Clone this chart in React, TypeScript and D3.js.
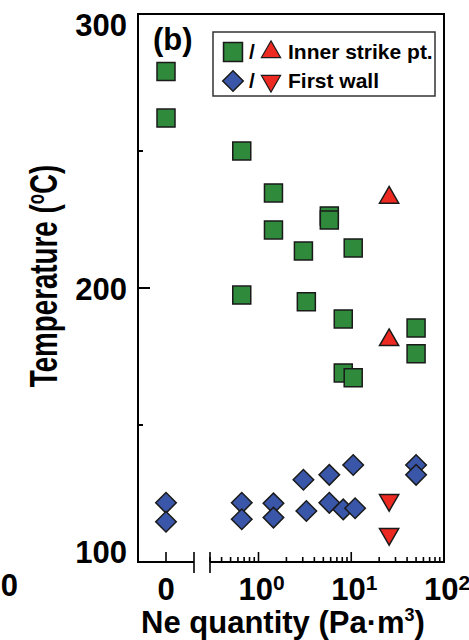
import React, { useEffect, useRef } from 'react';
import * as d3 from 'd3';

const W = 469;
const H = 640;

// Inner strike pt. (green squares)
const squareNe = [0, 0, 0.66, 1.45, 1.45, 3.05, 5.8, 5.8, 10.5, 0.66, 3.28, 8.2, 50, 50, 8.2, 10.5];
const squareT = [279, 262, 250, 234.7, 221.2, 213.5, 226.3, 224.8, 214.6, 197.4, 195, 188.7, 185.4, 176, 169, 167.2];
// Inner strike pt. (red up-triangles)
const triUpNe = [25.6, 25.6];
const triUpT = [233, 181];
// First wall (blue diamonds)
const diamondNe = [0, 0, 0.66, 0.66, 1.45, 1.45, 3.05, 3.28, 5.8, 5.8, 8.2, 10.5, 11, 50, 50];
const diamondT = [121.6, 114.7, 121.6, 115.6, 121.4, 116.2, 130, 118.6, 131.8, 121.6, 119.2, 135.4, 119.6, 135.4, 131.8];
// First wall (red down-triangles)
const triDownNe = [25.6, 25.6];
const triDownT = [122.6, 110.2];

const yTicks = [100, 200, 300];
const yMinorTicks = [150, 250];
const xDecades = [0, 1, 2];
const legendLabels = ['Inner strike pt.', 'First wall'];

const FONT = '"Liberation Sans", Arial, sans-serif';
const GREEN = '#2f8a3c';
const BLUE = '#3a56a8';
const RED = '#ec2a22';
const EDGE = '#1a1a1a';

const App = () => {
  const svgRef = useRef<SVGSVGElement>(null);

  useEffect(() => {
    const svg = d3.select(svgRef.current);
    svg.selectAll('*').remove();

    const left = 138, right = 444, top = 14, bottom = 562;

    // Scales: y linear, x split into a "0" slot and a log part
    const y = d3.scaleLinear().domain([100, 300]).range([bottom, top]);
    const xZero = d3.scalePoint<string>().domain(['0']).range([left, 194]);
    const xLog = d3.scaleLog().domain([0.3, 100]).range([210, right]);
    const xPos = (v: number) => (v === 0 ? (xZero('0') as number) : xLog(v));

    const g = svg.append('g');

    // Frame with broken bottom axis
    g.append('path')
      .attr('d', `M${xZero.range()[1]},${bottom}H${left}V${top}H${right}V${bottom}H${xLog.range()[0]}`)
      .attr('fill', 'none')
      .attr('stroke', '#000')
      .attr('stroke-width', 2);

    // Break marks
    [xZero.range()[1], xLog.range()[0]].forEach(bx => {
      g.append('line')
        .attr('x1', bx).attr('x2', bx)
        .attr('y1', bottom - 10).attr('y2', bottom + 11)
        .attr('stroke', '#000').attr('stroke-width', 1.6);
    });

    // y ticks
    g.selectAll('.ymaj')
      .data(yTicks)
      .join('line')
      .attr('x1', left).attr('x2', left + 12)
      .attr('y1', d => y(d)).attr('y2', d => y(d))
      .attr('stroke', '#000').attr('stroke-width', 2);
    g.selectAll('.ymin')
      .data(yMinorTicks)
      .join('line')
      .attr('x1', left).attr('x2', left + 5)
      .attr('y1', d => y(d)).attr('y2', d => y(d))
      .attr('stroke', '#000').attr('stroke-width', 2);
    g.selectAll('.ylab')
      .data(yTicks)
      .join('text')
      .attr('x', 127)
      .attr('y', d => Math.min(Math.max(y(d), 24), 551) + 11.5)
      .attr('text-anchor', 'end')
      .attr('font-family', FONT)
      .attr('font-weight', 'bold')
      .attr('font-size', 31)
      .text(d => d);

    // x ticks: zero slot
    g.append('line')
      .attr('x1', xPos(0)).attr('x2', xPos(0))
      .attr('y1', bottom).attr('y2', bottom - 10)
      .attr('stroke', '#000').attr('stroke-width', 1.6);
    g.append('text')
      .attr('x', xPos(0)).attr('y', 600)
      .attr('text-anchor', 'middle')
      .attr('font-family', FONT).attr('font-weight', 'bold').attr('font-size', 31)
      .text('0');

    // x ticks: log part
    const logTicks = xLog.ticks();
    g.selectAll('.xt')
      .data(logTicks)
      .join('line')
      .attr('x1', d => xLog(d)).attr('x2', d => xLog(d))
      .attr('y1', bottom)
      .attr('y2', d => (Math.abs(Math.log10(d) - Math.round(Math.log10(d))) < 1e-6 ? bottom - 10 : bottom - 5))
      .attr('stroke', '#000').attr('stroke-width', 1.6);

    xDecades.forEach(e => {
      const t = g.append('text')
        .attr('x', xLog(Math.pow(10, e)) + 3).attr('y', 600)
        .attr('text-anchor', 'middle')
        .attr('font-family', FONT).attr('font-weight', 'bold').attr('font-size', 31);
      t.append('tspan').text('10');
      t.append('tspan').attr('dy', -10).attr('font-size', 21).text(e);
    });

    // Axis titles
    const xt = g.append('text')
      .attr('x', 283).attr('y', 633)
      .attr('text-anchor', 'middle')
      .attr('font-family', FONT).attr('font-weight', 'bold').attr('font-size', 31);
    xt.append('tspan').text('Ne quantity (Pa\u00b7m');
    xt.append('tspan').attr('dy', -12).attr('font-size', 18).text('3');
    xt.append('tspan').attr('dy', 12).text(')');

    // y title is set in a condensed face: tall glyphs, squeezed along the text
    const yt = g.append('text')
      .attr('transform', `translate(57,276) rotate(-90) scale(0.73,1)`)
      .attr('text-anchor', 'middle')
      .attr('font-family', FONT).attr('font-weight', 'bold').attr('font-size', 38);
    yt.append('tspan').text('Temperature (');
    yt.append('tspan').attr('dy', -13).attr('font-size', 23).text('o');
    yt.append('tspan').attr('dy', 13).text('C)');

    // Panel label
    g.append('text')
      .attr('x', 153).attr('y', 50)
      .attr('font-family', FONT).attr('font-weight', 'bold').attr('font-size', 31)
      .text('(b)');

    // Fragment of neighbouring panel's label
    g.append('text')
      .attr('x', 18).attr('y', 596)
      .attr('text-anchor', 'end')
      .attr('font-family', FONT).attr('font-weight', 'bold').attr('font-size', 31)
      .text('0');

    // Markers
    const sq = d3.symbol().type(d3.symbolSquare).size(18 * 18)() as string;
    const dia = d3.symbol().type(d3.symbolSquare).size(14.5 * 14.5)() as string;
    const tri = d3.symbol().type(d3.symbolTriangle).size(160)() as string;

    const drawMarkers = (ne: number[], t: number[], path: string, rot: number, fill: string) => {
      g.append('g')
        .selectAll('path')
        .data(d3.zip(ne, t))
        .join('path')
        .attr('d', path)
        .attr('transform', d => `translate(${xPos(d[0])},${y(d[1])}) rotate(${rot})`)
        .attr('fill', fill)
        .attr('stroke', EDGE)
        .attr('stroke-width', 1.5);
    };

    drawMarkers(squareNe, squareT, sq, 0, GREEN);
    drawMarkers(diamondNe, diamondT, dia, 45, BLUE);
    drawMarkers(triUpNe, triUpT, tri, 0, RED);
    drawMarkers(triDownNe, triDownT, tri, 180, RED);

    // Legend
    const lg = g.append('g');
    lg.append('rect')
      .attr('x', 213).attr('y', 32).attr('width', 222).attr('height', 64)
      .attr('fill', '#fff').attr('stroke', '#333').attr('stroke-width', 1.5);
    const rows = [
      { cy: 52, a: sq, ar: 0, af: GREEN, b: tri, br: 0 },
      { cy: 81, a: dia, ar: 45, af: BLUE, b: tri, br: 180 },
    ];
    rows.forEach((r, i) => {
      lg.append('path').attr('d', r.a)
        .attr('transform', `translate(233,${r.cy}) rotate(${r.ar})${i === 0 ? ' scale(1.05)' : ''}`)
        .attr('fill', r.af).attr('stroke', EDGE).attr('stroke-width', 1.5);
      lg.append('text').attr('x', 249).attr('y', r.cy + 7)
        .attr('font-family', FONT).attr('font-weight', 'bold').attr('font-size', 21)
        .text('/');
      lg.append('path').attr('d', r.b)
        .attr('transform', `translate(271,${r.cy}) rotate(${r.br})`)
        .attr('fill', RED).attr('stroke', EDGE).attr('stroke-width', 1.2);
      lg.append('text').attr('x', 288).attr('y', r.cy + 7)
        .attr('font-family', FONT).attr('font-weight', 'bold').attr('font-size', 21)
        .text(legendLabels[i]);
    });
  }, []);

  return (
    <svg
      ref={svgRef}
      width={W}
      height={H}
      style={{ position: 'absolute', left: 0, top: 0, background: '#fff' }}
    />
  );
};

export default App;
